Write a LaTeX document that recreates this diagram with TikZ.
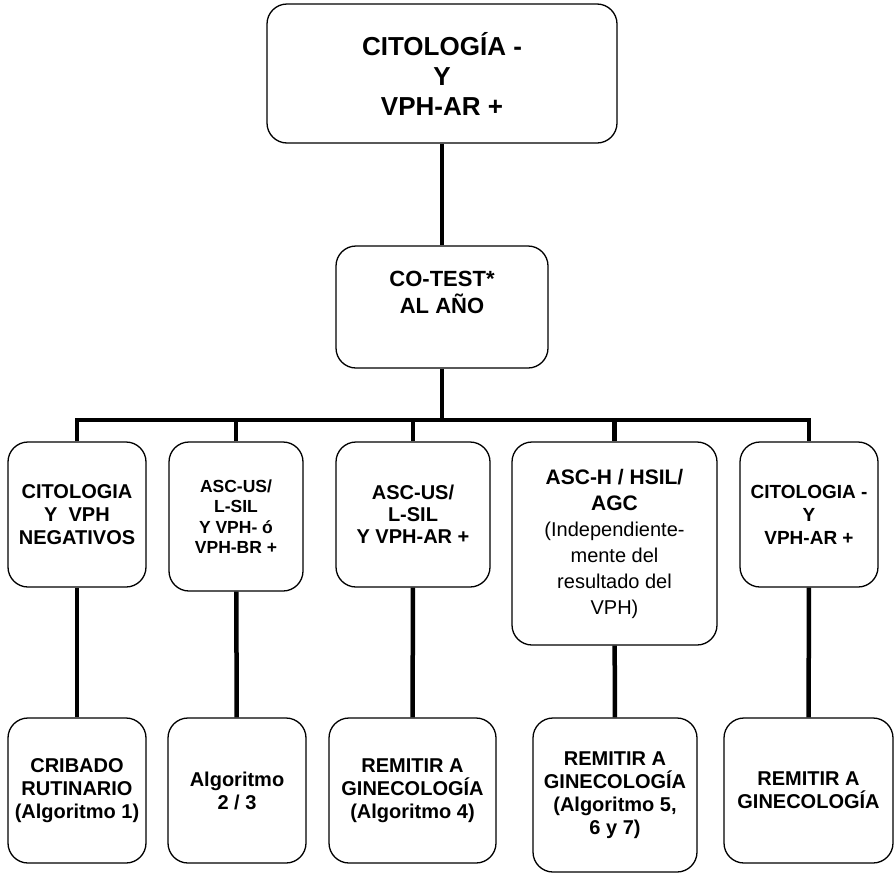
\documentclass[tikz,border=0pt]{standalone}
\usepackage{fontspec}
\setmainfont{Liberation Sans}
\usepackage{tikz}
\newcommand{\boxfont}[2]{\fontsize{#1}{#2}\selectfont\bfseries}
\tikzset{box/.style={draw, rounded corners=20pt, line width=1.3pt, fill=white, align=center, inner sep=2pt}, link/.style={line width=4.5pt}}

\begin{document}
\begin{tikzpicture}[x=1pt, y=-1pt]
      \useasboundingbox (0,0) rectangle (894,873);
      \def\rowtop{514.5}
      \def\rowbot{790.5}
      \node [box, minimum width=350pt, minimum height=139pt, font=\boxfont{26}{30}] (top) at (442,73.5) {CITOLOGÍA -\\Y\\VPH-AR +};
      \node [box, minimum width=212pt, minimum height=122pt] (cotest) at (442,307) {};
      \node [align=center, font=\boxfont{22}{27}] (cotesttext) at (442,292) {CO-TEST*\\AL AÑO};
      \node [box, minimum width=138pt, minimum height=145pt, font=\boxfont{20}{23}] (c1) at (77,\rowtop) {CITOLOGIA\\Y\ \ VPH\\NEGATIVOS};
      \node [box, minimum width=134pt, minimum height=149pt, font=\boxfont{17.5}{20.5}] (c2) at (236,516.5) {ASC-US/\\L-SIL\\Y VPH- ó\\VPH-BR +};
      \node [box, minimum width=154pt, minimum height=145pt, font=\boxfont{20}{22}] (c3) at (413,\rowtop) {ASC-US/\\L-SIL\\Y VPH-AR +};
      \node [box, minimum width=205pt, minimum height=203pt, font=\fontsize{20}{26}\selectfont] (c4) at (614.5,543.5) {\textbf{\fontsize{21}{26}\selectfont ASC-H / HSIL/}\\\textbf{\fontsize{21}{26}\selectfont AGC}\\(Independiente-\\mente del\\resultado del\\VPH)};
      \node [box, minimum width=138pt, minimum height=145pt, font=\boxfont{19}{23}] (c5) at (809,\rowtop) {CITOLOGIA -\\Y\\VPH-AR +};
      \node [box, minimum width=138pt, minimum height=145pt, font=\boxfont{20}{23}] (d1) at (77,\rowbot) {CRIBADO\\RUTINARIO\\(Algoritmo 1)};
      \node [box, minimum width=138pt, minimum height=145pt, font=\boxfont{20}{23}] (d2) at (237,\rowbot) {Algoritmo\\2 / 3};
      \node [box, minimum width=167pt, minimum height=145pt, font=\boxfont{20}{23}] (d3) at (412.5,\rowbot) {REMITIR A\\GINECOLOGÍA\\(Algoritmo 4)};
      \node [box, minimum width=164pt, minimum height=154pt, font=\boxfont{20}{23}] (d4) at (615,795) {REMITIR A\\GINECOLOGÍA\\(Algoritmo 5,\\6 y 7)};
      \node [box, minimum width=169pt, minimum height=145pt, font=\boxfont{20}{23}] (d5) at (808.5,\rowbot) {REMITIR A\\GINECOLOGÍA};
      \coordinate (bus) at (442,420);
      \draw [link] (top) -- (cotest);
      \draw [link] (cotest) -- (bus);
      \draw [link] (c1.north) |- (bus) -| (c5.north);
      \foreach \i in {2,3,4} {
        \draw [link] (c\i.north) -- (c\i.north |- bus);
      }
      \foreach \i in {1,...,5} {
        \draw [link] (c\i) -- (d\i);
      }
    \end{tikzpicture}
\end{document}
